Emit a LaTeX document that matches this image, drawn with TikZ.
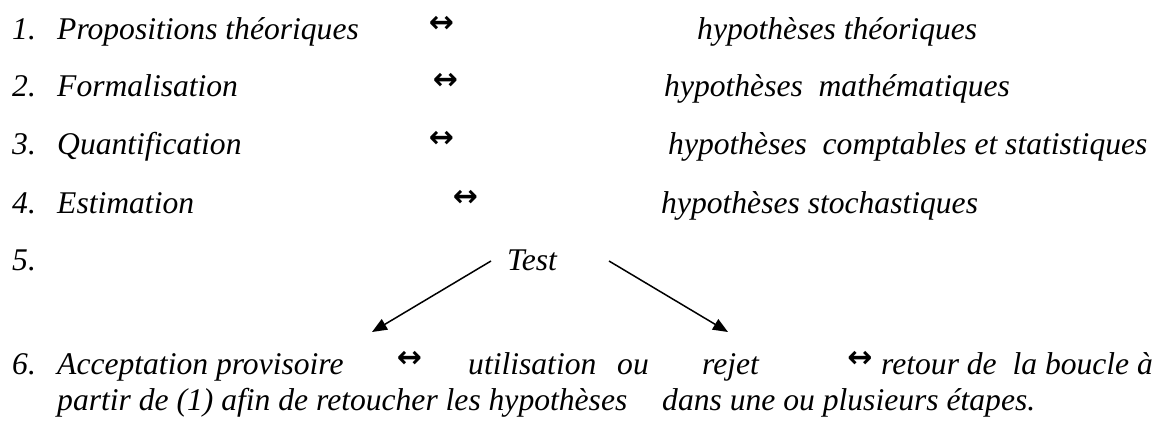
\documentclass[tikz,border=0pt]{standalone}
\usepackage{fontspec}
\setmainfont{Liberation Serif}
\newfontfamily\arrowfont{DejaVu Sans}
\usetikzlibrary{arrows.meta}
\begin{document}
\begin{tikzpicture}[x=1pt,y=-1pt,
  txt/.style={anchor=base west, inner sep=0pt, font=\fontsize{31.6}{38}\selectfont\itshape},
  dbl/.style={anchor=center, inner sep=0pt, font=\fontsize{30}{32}\selectfont\arrowfont\bfseries},
  conn/.style={line width=1.5pt, -{Triangle[length=15pt,width=12pt]}}]
\useasboundingbox (0,0) rectangle (1164,439);
% row 1
\node[txt] (n1) at (12,39) {1.};
\node[txt] (l1) at (57,39) {Propositions théoriques};
\node[dbl] (a1) at (441.5,24) {↔};
\node[txt] (r1) at (697,39) {hypothèses théoriques};
% row 2
\node[txt] (n2) at (12,96) {2.};
\node[txt] (l2) at (57,96) {Formalisation};
\node[dbl] (a2) at (445.5,81) {↔};
\node[txt] (r2) at (664,96) {hypothèses\ \ mathématiques};
% row 3
\node[txt] (n3) at (12,154) {3.};
\node[txt] (l3) at (57,154) {Quantification};
\node[dbl] (a3) at (441.5,139) {↔};
\node[txt] (r3) at (668,154) {hypothèses\ \ comptables et statistiques};
% row 4
\node[txt] (n4) at (12,213) {4.};
\node[txt] (l4) at (57,213) {Estimation};
\node[dbl] (a4) at (465.5,198) {↔};
\node[txt] (r4) at (661,213) {hypothèses stochastiques};
% row 5
\node[txt] (n5) at (12,270) {5.};
\node[txt] (test) at (507,270) {Test};
\coordinate (ls) at (491,261);
\coordinate (le) at (372,332);
\coordinate (rs) at (609,261);
\coordinate (re) at (728,332);
\draw[conn] (ls) -- (le);
\draw[conn] (rs) -- (re);
% row 6
\node[txt] (n6) at (12,374) {6.};
\node[txt] (l6) at (57,374) {Acceptation provisoire};
\node[dbl] (a6) at (409.5,359) {↔};
\node[txt] (u6) at (468,374) {utilisation};
\node[txt] (o6) at (617,374) {ou};
\node[txt] (j6) at (702,374) {rejet};
\node[dbl] (b6) at (860,359) {↔};
\node[txt] (t6) at (881,374) {retour de\ \ la boucle à};
% row 7
\node[txt] (p7) at (57,410) {partir de (1) afin de retoucher les hypothèses};
\node[txt] (d7) at (662,410) {dans une ou plusieurs étapes.};
\end{tikzpicture}
\end{document}
